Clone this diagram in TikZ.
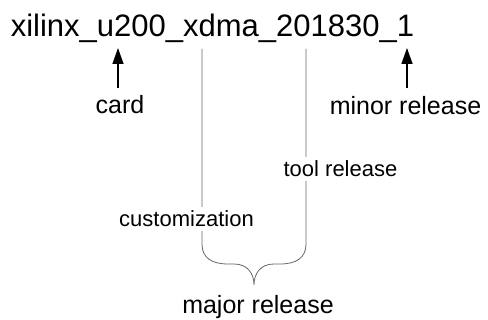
\documentclass[tikz,border=0pt]{standalone}
\usepackage{fontspec}
\setmainfont{Liberation Sans}
\usetikzlibrary{arrows.meta}
\begin{document}
\begin{tikzpicture}[x=1pt,y=-1pt]
\tikzset{part/.style={inner sep=0pt,anchor=base,font=\fontsize{25}{30}\selectfont},
 field/.style={inner sep=4pt,anchor=base,fill=white,font=\fontsize{22}{26}\selectfont},
 pointer/.style={line width=1.4pt,-{Triangle[length=16pt,width=11pt]}},
 split/.style={draw=black!60,line width=0.8pt}}
\useasboundingbox (0,0) rectangle (488,320);
\node[inner sep=0pt,anchor=base,font=\fontsize{31}{36}\selectfont] (name) at (212.5,37) {xilinx\_u200\_xdma\_201830\_1};
% pointers from below
\node[part] (card) at (120,114) {card};
\node[part] (minor) at (405.5,115) {minor release};
\coordinate (card top) at (118,88);
\coordinate (card tip) at (118,48);
\coordinate (minor top) at (407,88);
\coordinate (minor tip) at (407,48);
\draw[pointer] (card top) -- (card tip);
\draw[pointer] (minor top) -- (minor tip);
% brace for the major release
\coordinate (cust top) at (202,49);
\coordinate (tool top) at (306,49);
\coordinate (tip) at (254,285);
\draw[split] (cust top) -- (202,244) .. controls (202,258) and (212,264) .. (228,264) -- (234,264)
 .. controls (248,264) and (254,274) .. (tip) .. controls (254,274) and (260,264) .. (274,264)
 -- (280,264) .. controls (296,264) and (306,258) .. (306,244) -- (tool top);
\node[field] (cust) at (186.5,227) {customization};
\node[field] (tool) at (340.5,177) {tool release};
\node[part] (major) at (258,314) {major release};
\end{tikzpicture}
\end{document}
